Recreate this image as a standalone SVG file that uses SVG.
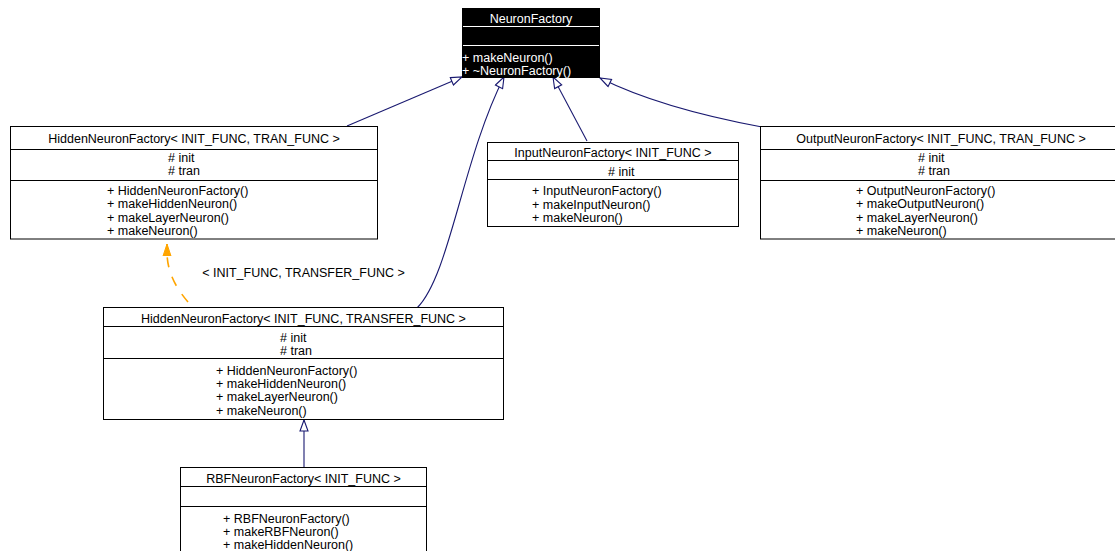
<svg xmlns="http://www.w3.org/2000/svg" width="1115" height="551" viewBox="0 0 1115 551">
  <style>
    .box { fill: #ffffff; stroke: #000000; stroke-width: 1; }
    .sep { stroke: #000000; stroke-width: 1; }
    .t { font-family: "Liberation Sans", Arial, Helvetica, sans-serif; font-size: 12.5px; fill: #000000; }
    .c { text-anchor: middle; }
    .w { fill: #ffffff; }
    .edge { fill: none; stroke: #191970; stroke-width: 1.1; }
    .tmpl { fill: none; stroke: #ffa500; stroke-width: 1.6; stroke-dasharray: 10 10; }
  </style>
  <defs>
    <!-- hollow triangle for inheritance -->
    <marker id="inherit" markerUnits="userSpaceOnUse" viewBox="0 0 13 10" refX="12" refY="5" markerWidth="13" markerHeight="10" orient="auto">
      <path d="M1,1 L12,5 L1,9 Z" fill="#ffffff" stroke="#191970" stroke-width="1.1"/>
    </marker>
    <!-- filled triangle for template instantiation -->
    <marker id="tmplhead" markerUnits="userSpaceOnUse" viewBox="0 0 13 10" refX="12" refY="5" markerWidth="13" markerHeight="10" orient="auto">
      <path d="M0,1 L12,5 L0,9 Z" fill="#ffa500" stroke="#ffa500" stroke-width="1"/>
    </marker>
  </defs>

  <!-- connectors -->
  <g id="connectors">
    <path class="edge" d="M347,126 L462,77" marker-end="url(#inherit)"/>
    <path class="edge" d="M417,308 C450,275 462,160 504,77" marker-end="url(#inherit)"/>
    <path class="edge" d="M587,141 L553,77" marker-end="url(#inherit)"/>
    <path class="edge" d="M762,127 Q660,108 600,78" marker-end="url(#inherit)"/>
    <path class="edge" d="M304,467 L304,420" marker-end="url(#inherit)"/>
    <path class="tmpl" d="M188,302 C176,288 167,272 167,252"/>
    <path d="M167,253 L167,244" stroke="#ffa500" stroke-width="1.6" marker-end="url(#tmplhead)"/>
    <text class="t c" x="303.5" y="277">&lt; INIT_FUNC, TRANSFER_FUNC &gt;</text>
  </g>

  <!-- NeuronFactory -->
  <g id="NeuronFactory">
    <rect x="462.5" y="8.5" width="137" height="69" fill="#000000" stroke="#000000"/>
    <line x1="463" y1="26.5" x2="599" y2="26.5" stroke="#ffffff"/>
    <line x1="463" y1="45.5" x2="599" y2="45.5" stroke="#ffffff"/>
    <text class="t c w" x="531" y="23">NeuronFactory</text>
    <text class="t w" x="462" y="62">+ makeNeuron()</text>
    <text class="t w" x="462" y="75">+ ~NeuronFactory()</text>
  </g>

  <!-- HiddenNeuronFactory< INIT_FUNC, TRAN_FUNC > -->
  <g id="HiddenNeuronFactoryTran">
    <rect class="box" x="10.5" y="126.5" width="367" height="112.5"/>
    <line class="sep" x1="10.5" y1="149.5" x2="377.5" y2="149.5"/>
    <line class="sep" x1="10.5" y1="180.5" x2="377.5" y2="180.5"/>
    <text class="t c" x="194" y="143">HiddenNeuronFactory&lt; INIT_FUNC, TRAN_FUNC &gt;</text>
    <text class="t" x="168" y="162"># init</text>
    <text class="t" x="168" y="175"># tran</text>
    <text class="t" x="107" y="195">+ HiddenNeuronFactory()</text>
    <text class="t" x="107" y="208">+ makeHiddenNeuron()</text>
    <text class="t" x="107" y="222">+ makeLayerNeuron()</text>
    <text class="t" x="107" y="235">+ makeNeuron()</text>
  </g>

  <!-- InputNeuronFactory< INIT_FUNC > -->
  <g id="InputNeuronFactory">
    <rect class="box" x="487.5" y="142.5" width="251" height="84"/>
    <line class="sep" x1="487.5" y1="160.5" x2="738.5" y2="160.5"/>
    <line class="sep" x1="487.5" y1="179.5" x2="738.5" y2="179.5"/>
    <text class="t c" x="613" y="157">InputNeuronFactory&lt; INIT_FUNC &gt;</text>
    <text class="t" x="608" y="176"># init</text>
    <text class="t" x="532" y="195">+ InputNeuronFactory()</text>
    <text class="t" x="532" y="209">+ makeInputNeuron()</text>
    <text class="t" x="532" y="222">+ makeNeuron()</text>
  </g>

  <!-- OutputNeuronFactory< INIT_FUNC, TRAN_FUNC > -->
  <g id="OutputNeuronFactory">
    <rect class="box" x="760.5" y="126.5" width="362" height="112.5"/>
    <line class="sep" x1="760.5" y1="149.5" x2="1122.5" y2="149.5"/>
    <line class="sep" x1="760.5" y1="180.5" x2="1122.5" y2="180.5"/>
    <text class="t c" x="941" y="143">OutputNeuronFactory&lt; INIT_FUNC, TRAN_FUNC &gt;</text>
    <text class="t" x="918" y="162"># init</text>
    <text class="t" x="918" y="175"># tran</text>
    <text class="t" x="856" y="195">+ OutputNeuronFactory()</text>
    <text class="t" x="856" y="208">+ makeOutputNeuron()</text>
    <text class="t" x="856" y="222">+ makeLayerNeuron()</text>
    <text class="t" x="856" y="235">+ makeNeuron()</text>
  </g>

  <!-- HiddenNeuronFactory< INIT_FUNC, TRANSFER_FUNC > -->
  <g id="HiddenNeuronFactoryTransfer">
    <rect class="box" x="103.5" y="307.5" width="400" height="112"/>
    <line class="sep" x1="103.5" y1="326.5" x2="503.5" y2="326.5"/>
    <line class="sep" x1="103.5" y1="358.5" x2="503.5" y2="358.5"/>
    <text class="t c" x="303.5" y="323">HiddenNeuronFactory&lt; INIT_FUNC, TRANSFER_FUNC &gt;</text>
    <text class="t" x="280" y="342"># init</text>
    <text class="t" x="280" y="355"># tran</text>
    <text class="t" x="216" y="375">+ HiddenNeuronFactory()</text>
    <text class="t" x="216" y="388">+ makeHiddenNeuron()</text>
    <text class="t" x="216" y="401">+ makeLayerNeuron()</text>
    <text class="t" x="216" y="415">+ makeNeuron()</text>
  </g>

  <!-- RBFNeuronFactory< INIT_FUNC > -->
  <g id="RBFNeuronFactory">
    <rect class="box" x="180.5" y="467.5" width="246" height="120"/>
    <line class="sep" x1="180.5" y1="486.5" x2="426.5" y2="486.5"/>
    <line class="sep" x1="180.5" y1="506.5" x2="426.5" y2="506.5"/>
    <text class="t c" x="303.5" y="483">RBFNeuronFactory&lt; INIT_FUNC &gt;</text>
    <text class="t" x="223" y="523">+ RBFNeuronFactory()</text>
    <text class="t" x="223" y="536">+ makeRBFNeuron()</text>
    <text class="t" x="223" y="549">+ makeHiddenNeuron()</text>
  </g>
</svg>
